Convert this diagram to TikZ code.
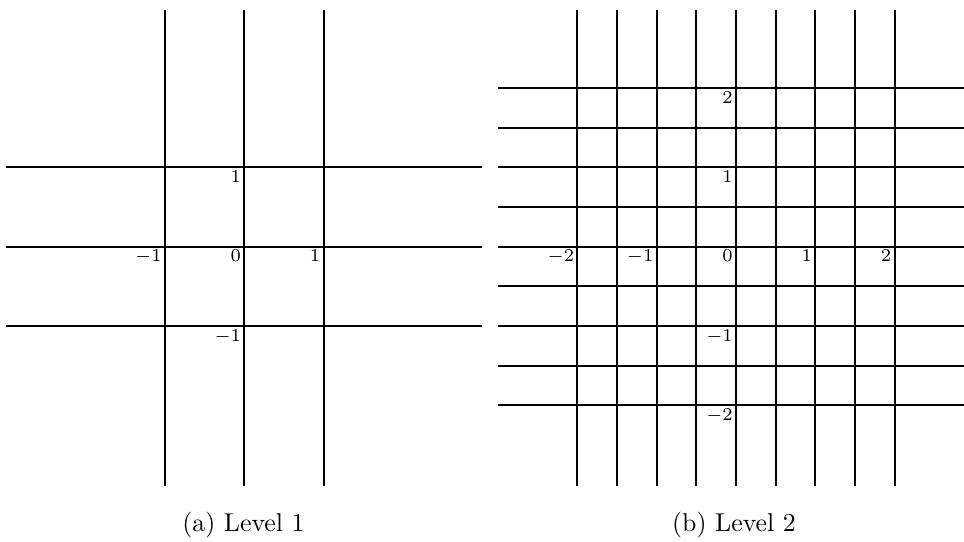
\documentclass[tikz,border=0pt]{standalone}
\usepackage{tikz}
\begin{document}
\begin{tikzpicture}[x=0.3876pt,y=-0.3876pt,
  gridline/.style={line width=0.8pt,black},
  lab/.style={anchor=north east,inner sep=1.1pt,font=\fontsize{7.4}{9}\selectfont},
  captext/.style={anchor=base,inner sep=0pt,font=\fontsize{10}{12}\selectfont}]
\useasboundingbox (0,0) rectangle (964,541);
% panel (a)
\begin{scope}[shift={(244.3,246.7)},x=30.74pt,y=30.74pt]
  \foreach \k in {-1,0,1}{
    \draw[gridline] (\k,-3.02) -- (\k,2.98);
    \draw[gridline] (-3,\k) -- (3,\k);
  }
  \node[lab] (a0)  at (0,0)  {$0$};
  \node[lab] (ay1) at (0,1)  {$1$};
  \node[lab] (aym) at (0,-1) {$-1$};
  \node[lab] (ax1) at (1,0)  {$1$};
  \node[lab] (axm) at (-1,0) {$-1$};
\end{scope}
% panel (b)
\begin{scope}[shift={(736,246.7)},x=15.37pt,y=15.37pt]
  \foreach \k in {-4,...,4}{
    \draw[gridline] (\k,-6.04) -- (\k,5.96);
    \draw[gridline] (-6.0,\k) -- (5.75,\k);
  }
  \node[lab] (b0)  at (0,0)  {$0$};
  \node[lab] (by1) at (0,2)  {$1$};
  \node[lab] (by2) at (0,4)  {$2$};
  \node[lab] (bym) at (0,-2) {$-1$};
  \node[lab] (bymm) at (0,-4) {$-2$};
  \node[lab] (bx1) at (2,0)  {$1$};
  \node[lab] (bx2) at (4,0)  {$2$};
  \node[lab] (bxm) at (-2,0) {$-1$};
  \node[lab] (bxmm) at (-4,0) {$-2$};
\end{scope}
\node[captext] (capa) at (243.5,531.5) {(a) Level 1};
\node[captext] (capb) at (734,531.5) {(b) Level 2};
\end{tikzpicture}
\end{document}
